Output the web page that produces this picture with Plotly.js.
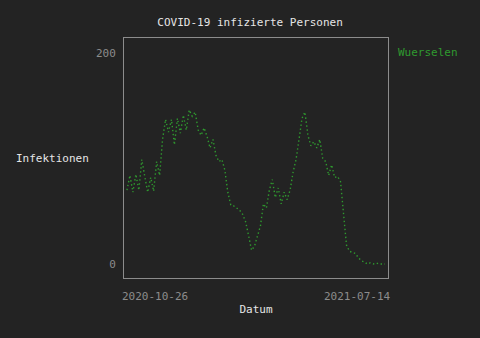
<!DOCTYPE html>
<html>
<head>
<meta charset="utf-8">
<script src="https://cdn.plot.ly/plotly-3.0.1.min.js"></script>
<style>html,body{margin:0;padding:0;background:#232323;}#chart{width:480px;height:338px;}</style>
</head>
<body>
<div id="chart"></div>
<script>
const chartTitle = 'COVID-19 infizierte Personen';
const seriesName = 'Wuerselen';
const xTitle = 'Datum';
const yTitle = 'Infektionen';
const xTickLabels = ['2020-10-26', '2021-07-14'];
const yTickVals = [0, 200];

const dates = [
  '2020-10-26','2020-10-29','2020-11-01','2020-11-04','2020-11-07','2020-11-10','2020-11-13','2020-11-16',
  '2020-11-19','2020-11-22','2020-11-25','2020-11-28','2020-12-01','2020-12-04','2020-12-07','2020-12-10',
  '2020-12-13','2020-12-16','2020-12-19','2020-12-22','2020-12-25','2020-12-28','2020-12-31','2021-01-03',
  '2021-01-06','2021-01-09','2021-01-12','2021-01-15','2021-01-18','2021-01-21','2021-01-24','2021-01-27',
  '2021-01-30','2021-02-02','2021-02-05','2021-02-08','2021-02-11','2021-02-14','2021-02-17','2021-02-20',
  '2021-02-23','2021-02-26','2021-03-01','2021-03-04','2021-03-07','2021-03-10','2021-03-13','2021-03-16',
  '2021-03-19','2021-03-22','2021-03-25','2021-03-28','2021-03-31','2021-04-03','2021-04-06','2021-04-09',
  '2021-04-12','2021-04-15','2021-04-18','2021-04-21','2021-04-24','2021-04-27','2021-04-30','2021-05-03',
  '2021-05-06','2021-05-09','2021-05-12','2021-05-15','2021-05-18','2021-05-21','2021-05-24','2021-05-27',
  '2021-05-30','2021-06-02','2021-06-05','2021-06-08','2021-06-11','2021-06-14','2021-06-17','2021-06-20',
  '2021-06-23','2021-06-26','2021-06-29','2021-07-02','2021-07-05','2021-07-08','2021-07-11','2021-07-14'
];
const infections = [
  70, 84, 68, 85, 70, 99, 83, 68,
  82, 69, 97, 84, 118, 137, 125, 137,
  113, 138, 124, 141, 127, 146, 140, 144,
  127, 122, 129, 121, 110, 118, 103, 97,
  99, 89, 68, 56, 55, 53, 51, 47,
  40, 27, 13, 17, 27, 36, 57, 53,
  70, 80, 63, 72, 57, 68, 61, 70,
  87, 99, 118, 138, 144, 122, 112, 116,
  110, 118, 100, 97, 84, 94, 82, 83,
  78, 46, 18, 12, 11, 10, 6, 3,
  2, 0, 1, 0, 1, 0, 0, 0
];

const FONT = 'DejaVu Sans Mono, monospace';
const GREEN = '#2f9a2f';
const GRAY = '#8c8c8c';
const WHITE = '#e6e6e6';

const trace = {
  x: dates, y: infections, type: 'scatter', mode: 'lines', name: seriesName,
  line: {color: GREEN, width: 1.4, dash: '1.4px,2.6px'},
  showlegend: false, hoverinfo: 'skip'
};

const layout = {
  width: 480, height: 338,
  paper_bgcolor: '#232323', plot_bgcolor: '#232323',
  margin: {l: 124, r: 92, t: 38, b: 60},
  font: {family: FONT, size: 11, color: WHITE},
  title: {text: chartTitle, font: {family: FONT, size: 11, color: WHITE},
          x: 0.521, xref: 'container', xanchor: 'center', y: 0.935, yref: 'container', yanchor: 'middle'},
  xaxis: {
    type: 'date', range: ['2020-10-23', '2021-07-17'],
    showgrid: false, zeroline: false, showline: true, mirror: true,
    linecolor: GRAY, linewidth: 1, showticklabels: false, ticks: '',
    title: {text: xTitle, font: {family: FONT, size: 11, color: WHITE}, standoff: 27}
  },
  yaxis: {
    range: [-13.3, 214.2], tickvals: yTickVals, ticktext: yTickVals.map(String),
    showgrid: false, zeroline: false, showline: true, mirror: true,
    linecolor: GRAY, linewidth: 1, ticks: '', ticklabelstandoff: 5,
    tickfont: {family: FONT, size: 11, color: GRAY}
  },
  annotations: [
    {text: yTitle, xref: 'paper', yref: 'paper', x: -0.269, y: 0.5, xanchor: 'center', yanchor: 'middle',
     showarrow: false, font: {family: FONT, size: 11, color: WHITE}},
    {text: seriesName, xref: 'paper', yref: 'y', x: 1, y: 200, xanchor: 'left', yanchor: 'middle',
     xshift: 8, showarrow: false, font: {family: FONT, size: 11, color: GREEN}},
    {text: xTickLabels[0], xref: 'x', yref: 'paper', x: dates[0], y: 0, xanchor: 'left', yanchor: 'top',
     xshift: -7, yshift: -10, showarrow: false, font: {family: FONT, size: 11, color: GRAY}},
    {text: xTickLabels[1], xref: 'x', yref: 'paper', x: dates[dates.length - 1], y: 0, xanchor: 'right', yanchor: 'top',
     xshift: 8, yshift: -10, showarrow: false, font: {family: FONT, size: 11, color: GRAY}}
  ]
};

Plotly.newPlot('chart', [trace], layout, {staticPlot: true, displayModeBar: false});
</script>
</body>
</html>
